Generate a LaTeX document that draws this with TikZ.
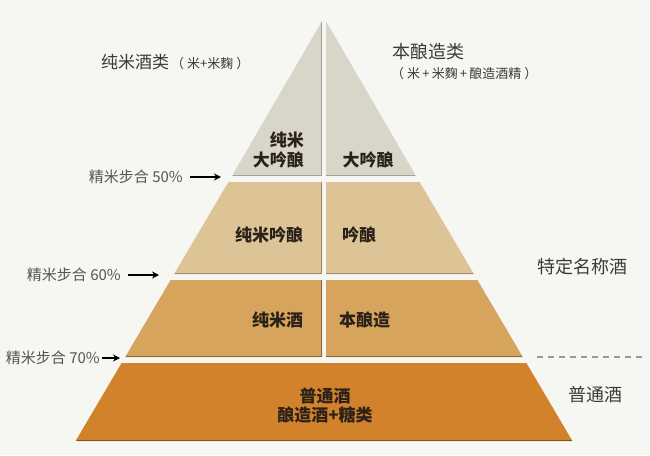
\documentclass[tikz,border=0pt]{standalone}
\usepackage{fontspec}
\setmainfont{Noto Sans CJK SC}
\usetikzlibrary{arrows.meta}
\definecolor{bg}{HTML}{F6F6F3}
\definecolor{layA}{HTML}{D8D6C9}
\definecolor{layAd}{HTML}{A3A195}
\definecolor{layB}{HTML}{DDC497}
\definecolor{layBd}{HTML}{A08A66}
\definecolor{layC}{HTML}{D6A45C}
\definecolor{layCd}{HTML}{8A6638}
\definecolor{layD}{HTML}{D3822C}
\definecolor{layDd}{HTML}{85511E}
\definecolor{inktext}{HTML}{2A2118}
\definecolor{graytext}{HTML}{555555}
\definecolor{darktext}{HTML}{3A3A3A}
\tikzset{
  lbl/.style={inner sep=0pt, text=inktext, font=\fontsize{17}{20}\selectfont\bfseries},
  side/.style={inner sep=0pt, text=graytext, font=\fontsize{15}{18}\selectfont},
  rlbl/.style={inner sep=0pt, text=darktext, font=\fontsize{18}{21}\selectfont},
  arr/.style={-{Stealth[length=7pt,width=7pt]}, line width=1.6pt, black, shorten <=7pt},
  shade/.style={line width=1.5pt}
}
\begin{document}
\begin{tikzpicture}[x=1pt,y=-1pt]
\fill[bg] (0,0) rectangle (650,455);
\useasboundingbox (0,0) rectangle (650,455);
% layer A (top)
\fill[layA] (232,176) -- (322,176) -- (322,21) -- cycle;
\fill[layA] (326,21) -- (326,176) -- (416,176) -- cycle;
\draw[layAd,shade] (233,175.3) -- (321.3,175.3) -- (321.3,22);
\draw[layAd,shade] (326,175.3) -- (415,175.3);
% layer B
\fill[layB] (228.4,182) -- (322,182) -- (322,274) -- (174.1,274) -- cycle;
\fill[layB] (326,182) -- (419.6,182) -- (473.9,274) -- (326,274) -- cycle;
\draw[layBd,shade] (175,273.3) -- (321.3,273.3) -- (321.3,182);
\draw[layBd,shade] (326,273.3) -- (473,273.3);
% layer C
\fill[layC] (170.6,280) -- (322,280) -- (322,357) -- (125.2,357) -- cycle;
\fill[layC] (326,280) -- (477.4,280) -- (522.8,357) -- (326,357) -- cycle;
\draw[layCd,shade] (126,356.3) -- (321.3,356.3) -- (321.3,280);
\draw[layCd,shade] (326,356.3) -- (522,356.3);
% layer D
\fill[layD] (121.6,363) -- (526.4,363) -- (572.4,441) -- (75.6,441) -- cycle;
\draw[layDd,shade] (76.5,440.3) -- (571.5,440.3);
% top labels
\node[inner sep=0pt, anchor=west, text=darktext] (tl) at (101,62)
  {{\fontsize{17}{20}\selectfont 纯米酒类}\hspace{2pt}{\fontsize{13}{15}\selectfont （\hspace{3pt}米+米麴\hspace{3pt}）}};
\node[inner sep=0pt, anchor=west, text=darktext, font=\fontsize{18}{21}\selectfont] (tr) at (392,52) {本酿造类};
\node[inner sep=0pt, anchor=west, text=darktext, font=\fontsize{13}{15}\selectfont] (trs) at (391,74) {（\hspace{3pt}米\,+\,米麴\,+\,酿造酒精\hspace{3pt}）};
% pyramid labels
\node[lbl, align=right, anchor=east, font=\fontsize{17}{20}\selectfont\bfseries] (a1) at (304,150) {纯米\\大吟酿};
\node[lbl] (a2) at (368,160) {大吟酿};
\node[lbl] (b1) at (269,235) {纯米吟酿};
\node[lbl] (b2) at (359,235) {吟酿};
\node[lbl] (c1) at (277.5,320) {纯米酒};
\node[lbl] (c2) at (364.5,320) {本酿造};
\node[lbl, align=center, font=\fontsize{17}{19}\selectfont\bfseries] (d1) at (325,406) {普通酒\\酿造酒+糖类};
% left labels and arrows
\node[side, anchor=east] (l1) at (183,177) {精米步合 50\%};
\coordinate (p1) at (221,177);
\draw[arr] (l1) -- (p1);
\node[side, anchor=east] (l2) at (121,275) {精米步合 60\%};
\coordinate (p2) at (159,275);
\draw[arr] (l2) -- (p2);
\node[side, anchor=east] (l3) at (100,358) {精米步合 70\%};
\coordinate (p3) at (120,358);
\draw[arr, shorten <=2pt] (l3) -- (p3);
% right labels
\node[rlbl] (r1) at (582,267) {特定名称酒};
\node[rlbl] (r2) at (595,395) {普通酒};
\coordinate (q1) at (537,357);
\coordinate (q2) at (646,357);
\draw[gray!80, line width=1.2pt, dash pattern=on 6pt off 5pt] (q1) -- (q2);
\end{tikzpicture}
\end{document}
